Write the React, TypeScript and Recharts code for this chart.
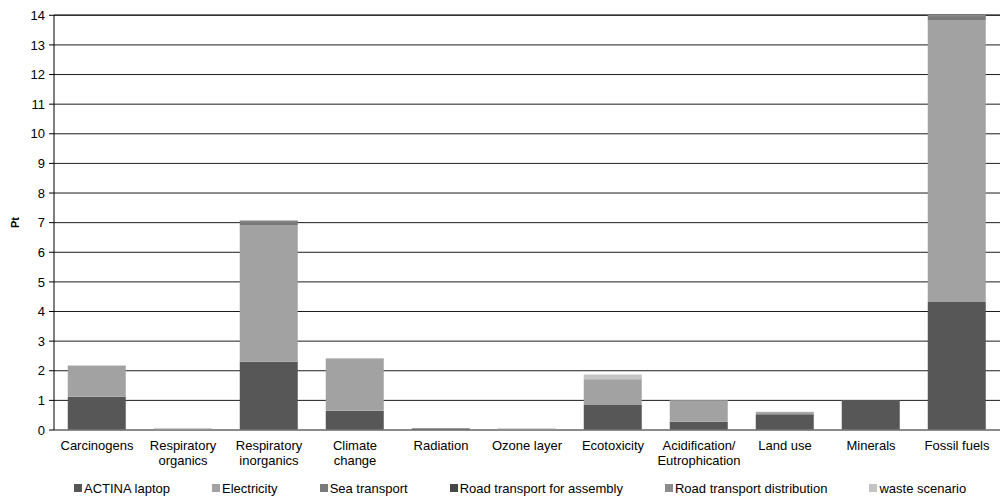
import { BarChart, Bar, XAxis, YAxis, CartesianGrid, Legend } from "recharts";

const categories = [
  "Carcinogens",
  "Respiratory\norganics",
  "Respiratory\ninorganics",
  "Climate\nchange",
  "Radiation",
  "Ozone layer",
  "Ecotoxicity",
  "Acidification/\nEutrophication",
  "Land use",
  "Minerals",
  "Fossil fuels",
];

const actinaLaptop = [1.12, 0.01, 2.3, 0.65, 0.05, 0.01, 0.84, 0.28, 0.53, 0.99, 4.32];
const electricity = [1.04, 0.04, 4.62, 1.73, 0.01, 0.02, 0.85, 0.71, 0.07, 0.01, 9.52];
const seaTransport = [0.01, 0, 0.13, 0.02, 0.01, 0, 0.01, 0.01, 0.01, 0, 0.12];
const roadAssembly = [0, 0, 0.01, 0, 0, 0, 0, 0, 0, 0, 0.02];
const roadDistribution = [0, 0, 0.01, 0.01, 0, 0, 0.01, 0, 0, 0, 0.02];
const wasteScenario = [0.01, 0.01, 0.01, 0.01, 0, 0.03, 0.16, 0.01, 0.01, 0, 0.01];

const yTicks = [0, 1, 2, 3, 4, 5, 6, 7, 8, 9, 10, 11, 12, 13, 14];

const SERIES = [
  { key: "actina", name: "ACTINA laptop", color: "#575757" },
  { key: "electricity", name: "Electricity", color: "#a2a2a2" },
  { key: "sea", name: "Sea transport", color: "#7a7a7a" },
  { key: "roadAssembly", name: "Road transport for assembly", color: "#474747" },
  { key: "roadDistribution", name: "Road transport distribution", color: "#8c8c8c" },
  { key: "waste", name: "waste scenario", color: "#c4c4c4" },
];

const data = categories.map((name, i) => ({
  name,
  actina: actinaLaptop[i],
  electricity: electricity[i],
  sea: seaTransport[i],
  roadAssembly: roadAssembly[i],
  roadDistribution: roadDistribution[i],
  waste: wasteScenario[i],
}));

const FONT = "'Liberation Sans', Arial, sans-serif";

function CategoryTick({ x, y, payload }: any) {
  const lines = String(payload.value).split("\n");
  return (
    <text x={x} y={y} textAnchor="middle" fontSize={13} fill="#000" fontFamily={FONT}>
      {lines.map((l, i) => (
        <tspan key={i} x={x} dy={i === 0 ? 12 : 15}>
          {l}
        </tspan>
      ))}
    </text>
  );
}

function LegendContent() {
  return (
    <div
      style={{
        height: 22,
        display: "flex",
        alignItems: "center",
        gap: 42,
        paddingLeft: 74,
        paddingTop: 4,
        boxSizing: "border-box",
        fontFamily: FONT,
        fontSize: 13,
        color: "#000",
        whiteSpace: "nowrap",
      }}
    >
      {SERIES.map((s) => (
        <div key={s.key} style={{ display: "flex", alignItems: "center", flexShrink: 0 }}>
          <span style={{ width: 8, height: 8, background: s.color, marginRight: 2, display: "inline-block" }} />
          <span>{s.name}</span>
        </div>
      ))}
    </div>
  );
}

export default function App() {
  return (
    <div style={{ position: "absolute", left: 0, top: 0, background: "#fff" }}>
      <BarChart
        width={1002}
        height={497}
        data={data}
        margin={{ top: 15, right: 2, left: 0, bottom: 0 }}
        barCategoryGap="16%"
      >
        <CartesianGrid vertical={false} stroke="#1c1c1c" />
        <XAxis
          dataKey="name"
          interval={0}
          tickLine={false}
          axisLine={{ stroke: "#8a8a8a" }}
          height={45}
          tick={<CategoryTick />}
        />
        <YAxis
          width={54}
          domain={[0, 14]}
          ticks={yTicks}
          interval={0}
          tickSize={5}
          tickMargin={4}
          axisLine={{ stroke: "#000" }}
          tickLine={{ stroke: "#000" }}
          tick={{ fontSize: 13, fill: "#000", fontFamily: FONT }}
          label={{
            value: "Pt",
            angle: -90,
            position: "insideLeft",
            offset: 15,
            style: { fontSize: 11, fontWeight: "bold", fill: "#000", fontFamily: FONT, textAnchor: "middle" },
          }}
        />
        <Legend verticalAlign="bottom" wrapperStyle={{ left: 0, width: 1002 }} content={<LegendContent />} />
        {SERIES.map((s) => (
          <Bar key={s.key} dataKey={s.key} name={s.name} stackId="a" fill={s.color} isAnimationActive={false} />
        ))}
      </BarChart>
    </div>
  );
}
